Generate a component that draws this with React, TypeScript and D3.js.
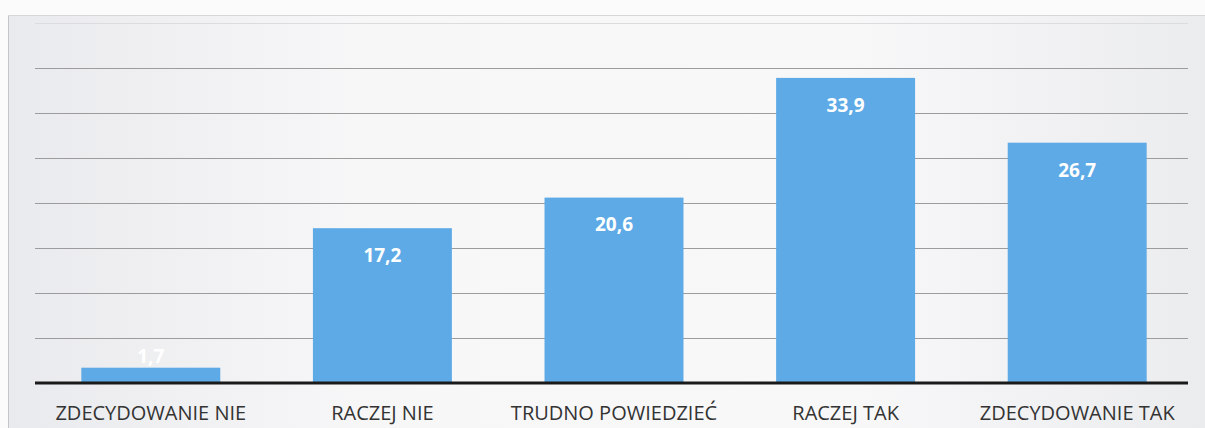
import React, { useEffect, useRef } from "react";
import * as d3 from "d3";

const categories = [
  "ZDECYDOWANIE NIE",
  "RACZEJ NIE",
  "TRUDNO POWIEDZIEĆ",
  "RACZEJ TAK",
  "ZDECYDOWANIE TAK",
];
const values = [1.7, 17.2, 20.6, 33.9, 26.7];
const gridTicks = [5, 10, 15, 20, 25, 30, 35, 40];

const W = 1205;
const H = 428;

const App = () => {
  const svgRef = useRef<SVGSVGElement>(null);

  useEffect(() => {
    const svg = d3.select(svgRef.current);
    svg.selectAll("*").remove();

    const left = 35;
    const right = 1193;
    const base = 383;

    const x = d3.scaleBand().domain(categories).range([left, right]).paddingInner(0.4).paddingOuter(0.2);
    const y = d3.scaleLinear().domain([0, 40]).range([base, base - 360]);

    // background
    const defs = svg.append("defs");
    const grad = defs.append("linearGradient").attr("id", "bg").attr("x1", "0").attr("x2", "1");
    grad.append("stop").attr("offset", "0").attr("stop-color", "#e9eaed");
    grad.append("stop").attr("offset", "0.3").attr("stop-color", "#f7f7f8");
    grad.append("stop").attr("offset", "0.7").attr("stop-color", "#f8f8f9");
    grad.append("stop").attr("offset", "1").attr("stop-color", "#ebecee");

    svg.append("rect").attr("width", W).attr("height", H).attr("fill", "#fbfbfb");
    svg
      .append("rect")
      .attr("x", 8)
      .attr("y", 15)
      .attr("width", W - 8)
      .attr("height", H - 15)
      .attr("fill", "url(#bg)");
    svg
      .append("line")
      .attr("x1", 8.5)
      .attr("x2", 8.5)
      .attr("y1", 15)
      .attr("y2", H)
      .attr("stroke", "#c4c5c8");
    svg
      .append("line")
      .attr("x1", 8)
      .attr("x2", W)
      .attr("y1", 15.5)
      .attr("y2", 15.5)
      .attr("stroke", "#d6d7d9");

    // gridlines
    svg
      .append("g")
      .selectAll("line")
      .data(gridTicks)
      .join("line")
      .attr("x1", left)
      .attr("x2", 1188)
      .attr("y1", (d) => Math.round(y(d)) + 0.5)
      .attr("y2", (d) => Math.round(y(d)) + 0.5)
      .attr("stroke", (d) => (d === 40 ? "#dcdcde" : "#9c9c9c"))
      .attr("stroke-width", 1);

    // bars
    svg
      .append("g")
      .selectAll("rect")
      .data(values)
      .join("rect")
      .attr("x", (d, i) => x(categories[i])!)
      .attr("y", (d) => y(d))
      .attr("width", x.bandwidth())
      .attr("height", (d) => base - y(d))
      .attr("fill", "#5eaae6");

    // value labels
    svg
      .append("g")
      .selectAll("text")
      .data(values)
      .join("text")
      .attr("x", (d, i) => x(categories[i])! + x.bandwidth() / 2)
      .attr("y", (d) => (base - y(d) < 40 ? y(d) - 12 : y(d) + 27))
      .attr("dy", "0.36em")
      .attr("text-anchor", "middle")
      .attr("fill", "#ffffff")
      .attr("font-family", "'Open Sans', sans-serif")
      .attr("font-weight", "bold")
      .attr("font-size", 19)
      .text((d) => d.toFixed(1).replace(".", ","));

    // baseline
    svg
      .append("line")
      .attr("x1", left)
      .attr("x2", 1188)
      .attr("y1", base)
      .attr("y2", base)
      .attr("stroke", "#1a1a1a")
      .attr("stroke-width", 3);

    // category labels
    svg
      .append("g")
      .selectAll("text")
      .data(categories)
      .join("text")
      .attr("x", (d) => x(d)! + x.bandwidth() / 2)
      .attr("y", 420)
      .attr("text-anchor", "middle")
      .attr("fill", "#333333")
      .attr("font-family", "'Open Sans', sans-serif")
      .attr("font-size", 20)
      .text((d) => d);
  }, []);

  return (
    <svg
      ref={svgRef}
      width={W}
      height={H}
      style={{ position: "fixed", left: 0, top: 0, display: "block" }}
    />
  );
};

export default App;
